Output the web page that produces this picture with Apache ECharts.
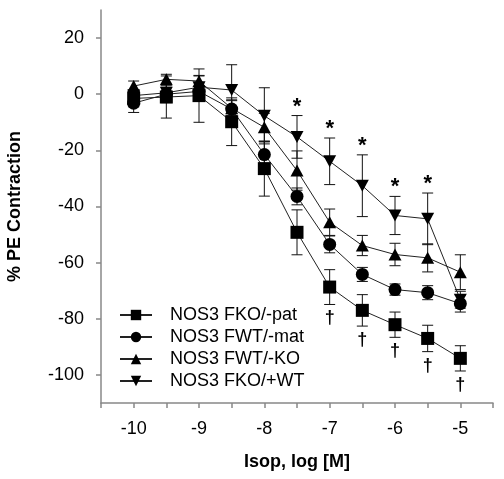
<!DOCTYPE html>
<html>
<head>
<meta charset="utf-8">
<script src="https://cdn.jsdelivr.net/npm/echarts@6/dist/echarts.min.js"></script>
<style>
html,body{margin:0;padding:0;background:#fff;}
#chart{width:504px;height:479px;}
</style>
</head>
<body>
<div id="chart"></div>
<script>
// ---- data ----
const xVals = [-10, -9.5, -9, -8.5, -8, -7.5, -7, -6.5, -6, -5.5, -5];
const seriesNames = ['NOS3 FKO/-pat', 'NOS3 FWT/-mat', 'NOS3 FWT/-KO', 'NOS3 FKO/+WT'];
const fkoPat    = [-1.5, -1, -0.5, -9.8, -26.5, -49.2, -68.7, -77, -82.1, -87, -94.1];
const fkoPatSem = [3, 7.5, 9.5, 8.5, 9.8, 8, 6.2, 5.6, 4.5, 4.7, 4.5];
const fwtMat    = [-3.2, 0, 1, -5.3, -21.5, -36.4, -53.5, -64.2, -69.6, -70.7, -74.6];
const fwtMatSem = [3.3, 3, 3, 3, 4.5, 3, 3, 2.5, 2, 2.5, 3];
const fwtKo     = [2.9, 5.3, 4.7, -5, -11.8, -27.2, -45.6, -53.9, -57.1, -58.3, -63.4];
const fwtKoSem  = [1.8, 1.8, 2, 3, 5, 7, 4.7, 3.6, 4, 5, 6.2];
const fkoWt     = [-0.5, 0.5, 2.5, 1.5, -7.7, -15.2, -23.9, -32.6, -43.2, -44.4, -73.2];
const fkoWtSem  = [2, 3, 4, 9, 10, 7.6, 8.3, 11, 6.8, 9.2, 3];
const asteriskX = [-7.5, -7, -6.5, -6, -5.5];   // * above FKO/+WT
const daggerX   = [-7, -6.5, -6, -5.5, -5];     // † below FKO/-pat
const xTicks  = [-10.5, -10, -9.5, -9, -8.5, -8, -7.5, -7, -6.5, -6, -5.5, -5, -4.5];
const xLabels = [-10, -9, -8, -7, -6, -5];
const yTicks  = [-100, -80, -60, -40, -20, 0, 20];

// ---- helpers ----
const FONT = 'Liberation Sans, Arial, Helvetica, sans-serif';
const INK = '#111';
const downTri = 'path://M0,0 L12,0 L6,11 Z';

function errData(vals, sems) {
  return xVals.map((x, i) => [x, vals[i] - sems[i], vals[i] + sems[i]]);
}
function errSeries(vals, sems) {
  return {
    type: 'custom', z: 1, silent: true,
    encode: { x: 0, y: [1, 2] },
    data: errData(vals, sems),
    renderItem: function (params, api) {
      const x = api.value(0);
      const lo = api.coord([x, api.value(1)]);
      const hi = api.coord([x, api.value(2)]);
      const hw = 5.5;
      const st = { stroke: INK, lineWidth: 1 };
      return {
        type: 'group', children: [
          { type: 'line', shape: { x1: lo[0], y1: lo[1], x2: hi[0], y2: hi[1] }, style: st },
          { type: 'line', shape: { x1: lo[0] - hw, y1: lo[1], x2: lo[0] + hw, y2: lo[1] }, style: st },
          { type: 'line', shape: { x1: hi[0] - hw, y1: hi[1], x2: hi[0] + hw, y2: hi[1] }, style: st }
        ]
      };
    }
  };
}
function markSeries(xs, vals, sems, sign, glyph, dy, size) {
  const data = xs.map(x => {
    const i = xVals.indexOf(x);
    return [x, vals[i] + sign * sems[i]];
  });
  return {
    type: 'custom', z: 5, silent: true,
    encode: { x: 0, y: 1 },
    data: data,
    renderItem: function (params, api) {
      const p = api.coord([api.value(0), api.value(1)]);
      return {
        type: 'text', x: p[0], y: p[1] + dy,
        style: { text: glyph, font: 'bold ' + size + 'px ' + FONT, fill: '#000', align: 'center', verticalAlign: 'middle' }
      };
    }
  };
}
function lineSeries(name, vals, symbol, size) {
  return {
    name: name, type: 'line', z: 3,
    data: xVals.map((x, i) => [x, vals[i]]),
    symbol: symbol, symbolSize: size, showSymbol: true,
    lineStyle: { color: '#222', width: 1 },
    itemStyle: { color: '#000', borderWidth: 0 },
    emphasis: { disabled: true },
    animation: false
  };
}

const chart = echarts.init(document.getElementById('chart'), null, { renderer: 'canvas' });
chart.setOption({
  animation: false,
  backgroundColor: '#fff',
  textStyle: { fontFamily: FONT },
  grid: { left: 101, right: 11, top: 10, bottom: 76, containLabel: false, outerBoundsMode: 'none' },
  legend: {
    orient: 'vertical', left: 114, top: 301,
    itemWidth: 32, itemHeight: 13, itemGap: 4,
    data: seriesNames,
    textStyle: { fontSize: 18, color: '#000', fontFamily: FONT, padding: [0, 0, 0, 13] },
    selectedMode: false
  },
  xAxis: {
    type: 'value', min: -10.5, max: -4.5,
    name: 'Isop, log [M]', nameLocation: 'middle', nameGap: 50,
    nameTextStyle: { fontSize: 18, fontWeight: 'bold', color: '#000', fontFamily: FONT },
    axisLine: { show: true, onZero: false, lineStyle: { color: '#888', width: 1.5 } },
    axisTick: { show: true, length: 5, lineStyle: { color: '#888', width: 1.5 }, customValues: xTicks },
    axisLabel: { fontSize: 18, color: '#000', margin: 17, customValues: xLabels, fontFamily: FONT },
    splitLine: { show: false }
  },
  yAxis: {
    type: 'value', min: -110, max: 30,
    name: '% PE Contraction', nameLocation: 'middle', nameGap: 77,
    nameTextStyle: { fontSize: 18, fontWeight: 'bold', color: '#000', fontFamily: FONT },
    axisLine: { show: true, onZero: false, lineStyle: { color: '#888', width: 1.5 } },
    axisTick: { show: true, length: 5, lineStyle: { color: '#888', width: 1.5 }, customValues: yTicks },
    axisLabel: { fontSize: 18, color: '#000', margin: 17, customValues: yTicks, fontFamily: FONT },
    splitLine: { show: false }
  },
  series: [
    errSeries(fkoPat, fkoPatSem),
    errSeries(fwtMat, fwtMatSem),
    errSeries(fwtKo, fwtKoSem),
    errSeries(fkoWt, fkoWtSem),
    lineSeries(seriesNames[0], fkoPat, 'rect', 13),
    lineSeries(seriesNames[1], fwtMat, 'circle', 13),
    lineSeries(seriesNames[2], fwtKo, 'triangle', [13, 12]),
    lineSeries(seriesNames[3], fkoWt, downTri, [13, 12]),
    markSeries(asteriskX, fkoWt, fkoWtSem, 1, '*', -9, 22),
    markSeries(daggerX, fkoPat, fkoPatSem, -1, '\u2020', 14, 18)
  ]
});
</script>
</body>
</html>
